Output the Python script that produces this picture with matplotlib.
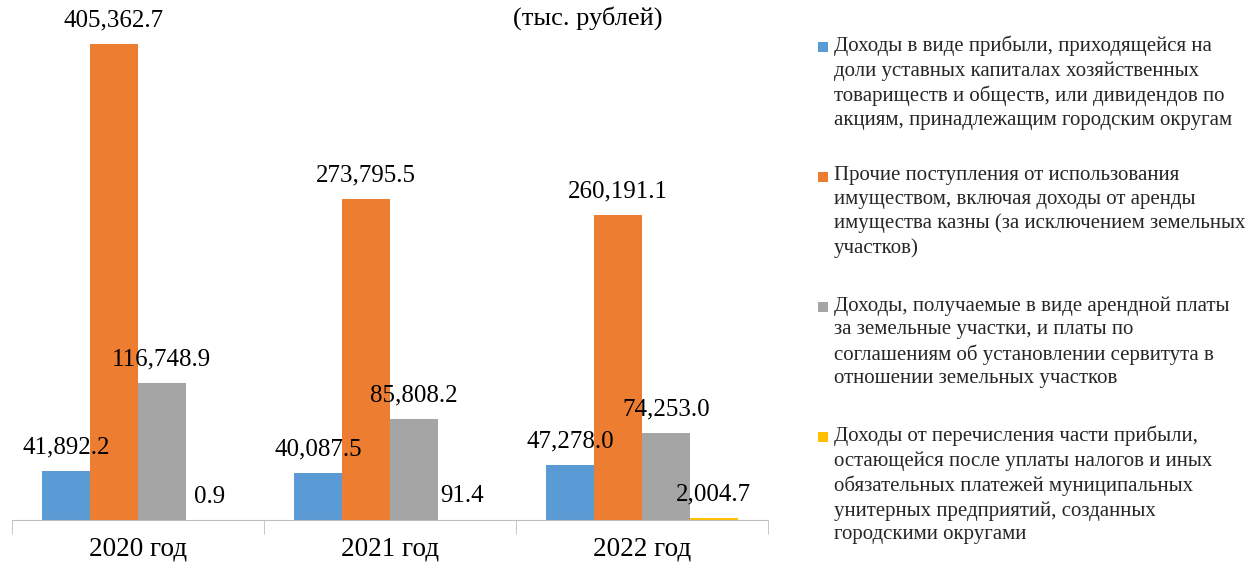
import numpy as np
import matplotlib
matplotlib.use('Agg')
import matplotlib.pyplot as plt
from matplotlib.patches import Rectangle

plt.rcParams['font.family'] = ['Liberation Serif', 'DejaVu Serif']

# Data (тыс. рублей)
years = ['2020 год', '2021 год', '2022 год']
dividends = [41892.2, 40087.5, 47278.0]
other_income = [405362.7, 273795.5, 260191.1]
land_rent = [116748.9, 85808.2, 74253.0]
unitary_profit = [0.9, 91.4, 2004.7]

series_names = [
    'Доходы в виде прибыли, приходящейся на\nдоли уставных капиталах хозяйственных\n'
    'товариществ и обществ, или дивидендов по\nакциям, принадлежащим городским округам',
    'Прочие поступления от использования\nимуществом, включая доходы от аренды\n'
    'имущества казны (за исключением земельных\nучастков)',
    'Доходы, получаемые в виде арендной платы\nза земельные участки, и платы по\n'
    'соглашениям об установлении сервитута в\nотношении земельных участков',
    'Доходы от перечисления части прибыли,\nостающейся после уплаты налогов и иных\n'
    'обязательных платежей муниципальных\nунитерных предприятий, созданных\nгородскими округами',
]
colors = ['#5B9BD5', '#ED7D31', '#A5A5A5', '#FFC000']

W, H = 1257, 565
fig = plt.figure(figsize=(W / 100, H / 100), dpi=100)
ax = fig.add_axes([0.0095, 0.0796, 0.6015, 0.895])

x = np.arange(len(years))
width = 0.19
all_series = [dividends, other_income, land_rent, unitary_profit]
for i, (vals, col) in enumerate(zip(all_series, colors)):
    pos = x + (i - 1.5) * width
    ax.bar(pos, vals, width, color=col, zorder=2)
    for p, v in zip(pos, vals):
        ax.annotate(f'{v:,.1f}', (p, v), xytext=(0, 9), textcoords='offset points',
                    ha='center', va='bottom', fontsize=18, color='black')

ax.set_xlim(-0.5, 2.5)
ax.set_ylim(0, 431000)
for s in ['top', 'right', 'left']:
    ax.spines[s].set_visible(False)
ax.spines['bottom'].set_color('#BFBFBF')
ax.set_yticks([])
ax.set_xticks(x)
ax.set_xticklabels(years, fontsize=19.5)
ax.tick_params(axis='x', which='major', length=0, pad=12)
ax.set_xticks([-0.5, 0.5, 1.5, 2.5], minor=True)
ax.tick_params(axis='x', which='minor', length=10, color='#BFBFBF')

fig.text(588 / W, 1 - 18 / H, '(тыс. рублей)', fontsize=19, ha='center', va='center')

# legend drawn by hand so the markers sit on the first line of each entry
first_line_y = 47
entry_step = 130
for i, (name, col) in enumerate(zip(series_names, colors)):
    yc = first_line_y + i * entry_step
    fig.patches.append(Rectangle((818 / W, 1 - (yc + 5) / H), 10 / W, 10 / H,
                                 transform=fig.transFigure, facecolor=col,
                                 edgecolor='none'))
    fig.text(834 / W, 1 - (yc - 11) / H, name, fontsize=15, ha='left', va='top',
             linespacing=1.33, color='#262626')

fig.savefig('out.png', dpi=100)
